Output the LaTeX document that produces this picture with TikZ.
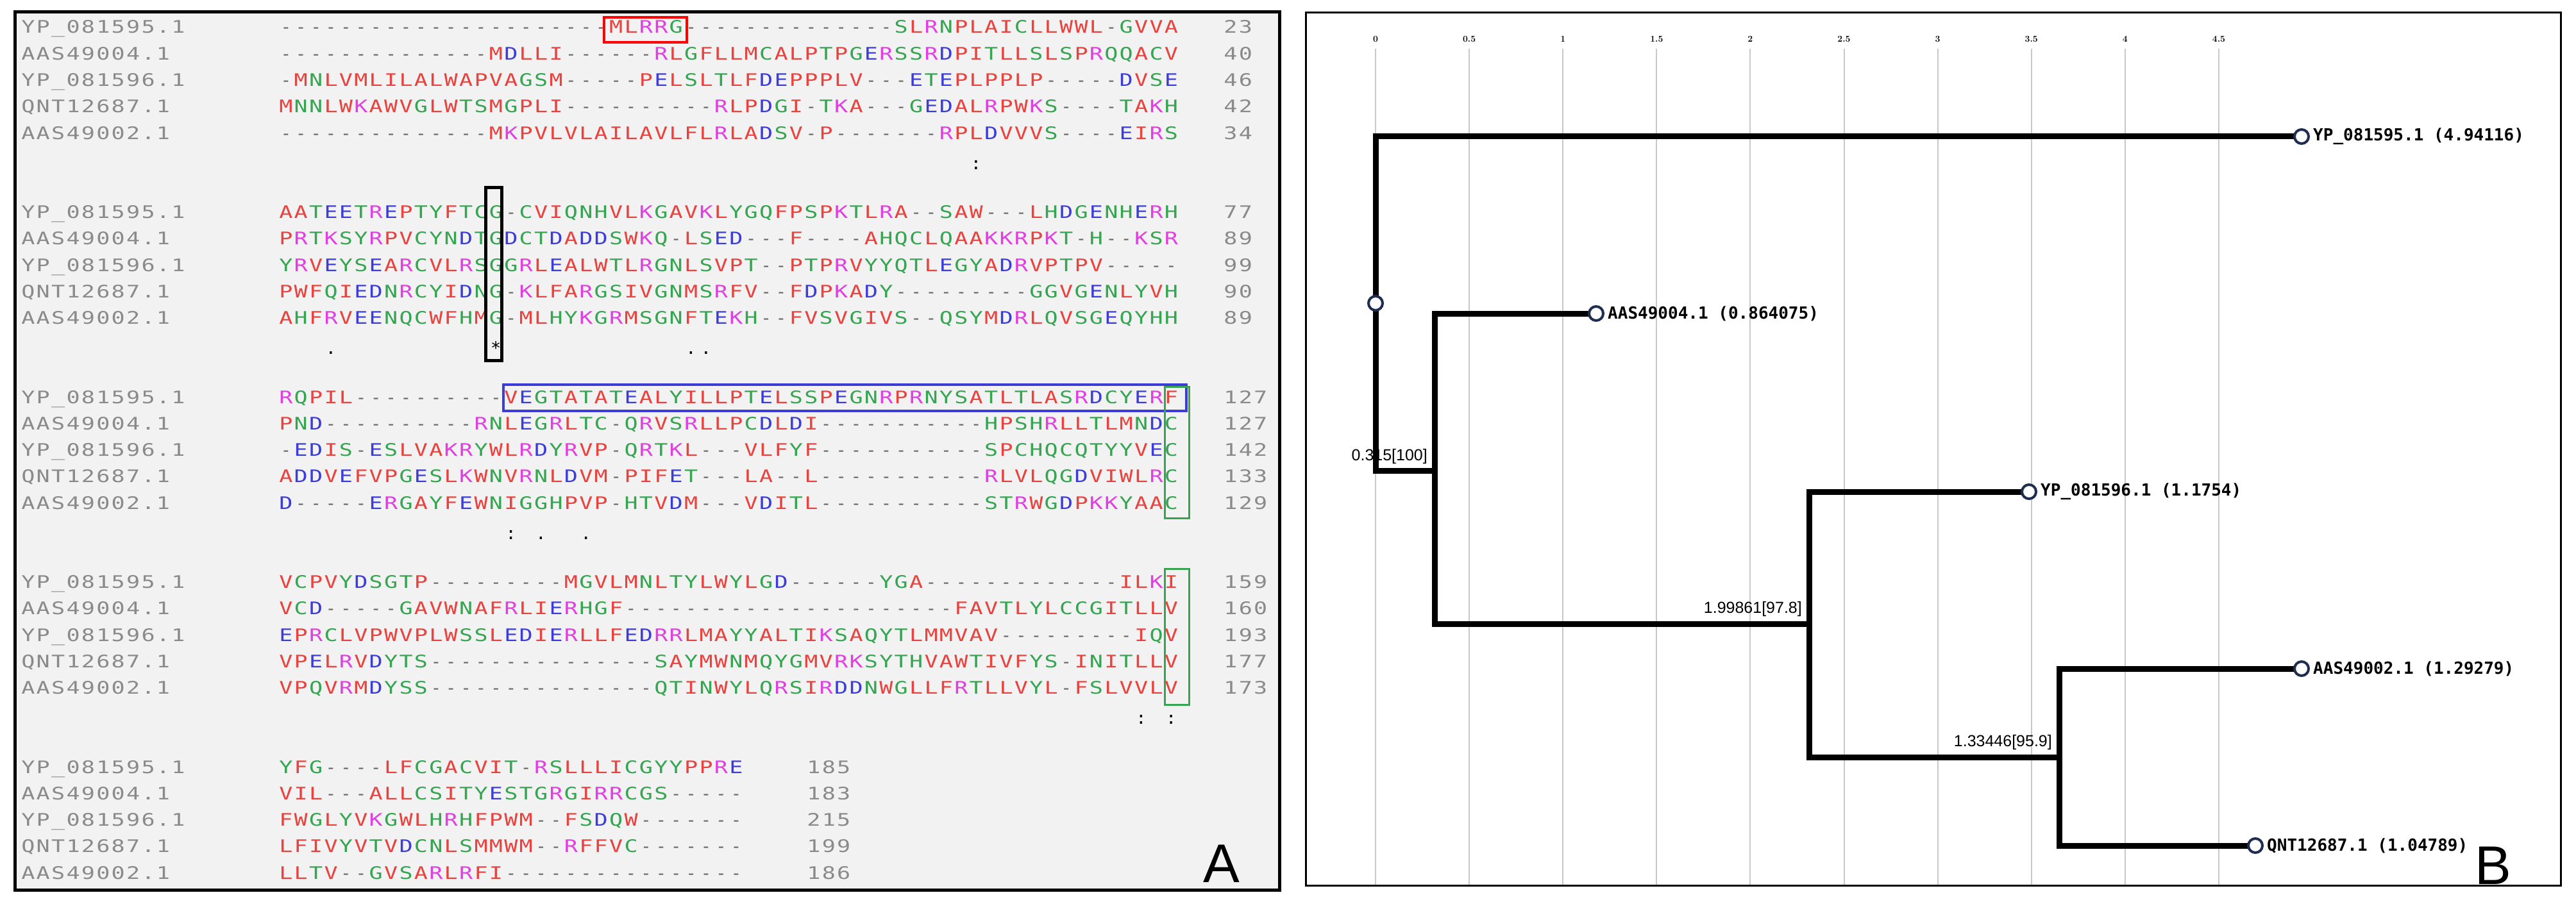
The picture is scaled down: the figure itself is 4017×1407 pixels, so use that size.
\documentclass[tikz,border=0pt]{standalone}
\usepackage{fontspec}
\usepackage{graphicx}
\setmainfont{Latin Modern Roman}
\setmonofont{DejaVu Sans Mono}
\setsansfont{Liberation Sans}
\definecolor{sred}{HTML}{E8433F}
\definecolor{sblue}{HTML}{3C3CD8}
\definecolor{smag}{HTML}{E040E0}
\definecolor{sgreen}{HTML}{36A552}
\definecolor{gapc}{HTML}{6A6A6A}
\definecolor{namec}{HTML}{8A8A8A}
\definecolor{panelbg}{HTML}{F2F2F2}
\definecolor{gridc}{HTML}{C8C8C8}
\definecolor{navy}{HTML}{1F2D50}
\colorlet{aaA}{sred}\colorlet{aaV}{sred}\colorlet{aaF}{sred}\colorlet{aaP}{sred}
\colorlet{aaM}{sred}\colorlet{aaI}{sred}\colorlet{aaL}{sred}\colorlet{aaW}{sred}
\colorlet{aaD}{sblue}\colorlet{aaE}{sblue}
\colorlet{aaR}{smag}\colorlet{aaK}{smag}
\colorlet{aaS}{sgreen}\colorlet{aaT}{sgreen}\colorlet{aaY}{sgreen}\colorlet{aaH}{sgreen}
\colorlet{aaC}{sgreen}\colorlet{aaN}{sgreen}\colorlet{aaG}{sgreen}\colorlet{aaQ}{sgreen}
\newlength\cw \setlength\cw{23.4pt}
\def\aacells#1{\aaloop#1\relax}
\def\aaloop#1{\ifx\relax#1\else\aacell{#1}\expandafter\aaloop\fi}
\def\aacell#1{\makebox[\cw]{\ifx-#1\textcolor{gapc}{-}\else\textcolor{aa#1}{\scalebox{1.3}[1]{#1}}\fi}}
\def\nmcells#1{\nmloop#1\relax}
\def\nmloop#1{\ifx\relax#1\else\makebox[\cw]{\scalebox{1.3}[1]{#1}}\expandafter\nmloop\fi}
\begin{document}
\begin{tikzpicture}[x=1pt,y=-1pt,
  seqtext/.style={anchor=base west,inner sep=0pt,font=\fontsize{27}{30}\ttfamily},
  nametext/.style={seqtext,text=namec},
  constext/.style={anchor=base,inner sep=0pt,font=\fontsize{27}{30}\ttfamily},
  br/.style={line width=9pt,line cap=rect,line join=miter},
  tip/.style={circle,draw=navy,fill=white,line width=4pt,minimum size=22pt,inner sep=0pt},
  leaflab/.style={anchor=west,inner sep=0pt,font=\fontsize{26}{28}\ttfamily\bfseries},
  intlab/.style={anchor=south east,inner sep=0pt,font=\fontsize{25}{27}\sffamily},
  ticklab/.style={anchor=base,inner sep=0pt,font=\fontsize{14}{16}\bfseries},
  panelletter/.style={inner sep=0pt,font=\fontsize{85}{90}\sffamily}]
\useasboundingbox (0,0) rectangle (4017,1407);
\fill[white] (0,0) rectangle (4017,1407);
% Panel A
\draw[line width=5pt,fill=panelbg] (23,19) rectangle (1995,1388);
\newcommand\srow[6]{%
  \pgfmathsetmacro\yy{52+288.5*#1+41.3*#2}%
  \node[nametext] (n#1#2) at (32,\yy) {\nmcells{#3}};%
  \node[seqtext] (s#1#2) at (434,\yy) {\aacells{#4}};%
  \node[nametext] (c#1#2) at (#6,\yy) {\nmcells{#5}};}
\newcommand\cons[3]{%
  \pgfmathsetmacro\yy{52+288.5*#1+212}%
  \pgfmathsetmacro\xx{434+23.4*(#2+0.5)}%
  \node[constext] (k#1#2) at (\xx,\yy) {#3};}
\srow{0}{0}{YP\_081595.1}{----------------------MLRRG--------------SLRNPLAICLLWWL-GVVA}{23}{1907}
\srow{0}{1}{AAS49004.1}{--------------MDLLI------RLGFLLMCALPTPGERSSRDPITLLSLSPRQQACV}{40}{1907}
\srow{0}{2}{YP\_081596.1}{-MNLVMLILALWAPVAGSM-----PELSLTLFDEPPPLV---ETEPLPPLP-----DVSE}{46}{1907}
\srow{0}{3}{QNT12687.1}{MNNLWKAWVGLWTSMGPLI----------RLPDGI-TKA---GEDALRPWKS----TAKH}{42}{1907}
\srow{0}{4}{AAS49002.1}{--------------MKPVLVLAILAVLFLRLADSV-P-------RPLDVVVS----EIRS}{34}{1907}
\cons{0}{46}{:}
\srow{1}{0}{YP\_081595.1}{AATEETREPTYFTCG-CVIQNHVLKGAVKLYGQFPSPKTLRA--SAW---LHDGENHERH}{77}{1907}
\srow{1}{1}{AAS49004.1}{PRTKSYRPVCYNDTGDCTDADDSWKQ-LSED---F----AHQCLQAAKKRPKT-H--KSR}{89}{1907}
\srow{1}{2}{YP\_081596.1}{YRVEYSEARCVLRSGGRLEALWTLRGNLSVPT--PTPRVYYQTLEGYADRVPTPV-----}{99}{1907}
\srow{1}{3}{QNT12687.1}{PWFQIEDNRCYIDNG-KLFARGSIVGNMSRFV--FDPKADY---------GGVGENLYVH}{90}{1907}
\srow{1}{4}{AAS49002.1}{AHFRVEENQCWFHMG-MLHYKGRMSGNFTEKH--FVSVGIVS--QSYMDRLQVSGEQYHH}{89}{1907}
\cons{1}{3}{.}\cons{1}{14}{*}\cons{1}{27}{.}\cons{1}{28}{.}
\srow{2}{0}{YP\_081595.1}{RQPIL----------VEGTATATEALYILLPTELSSPEGNRPRNYSATLTLASRDCYERF}{127}{1907}
\srow{2}{1}{AAS49004.1}{PND----------RNLEGRLTC-QRVSRLLPCDLDI-----------HPSHRLLTLMNDC}{127}{1907}
\srow{2}{2}{YP\_081596.1}{-EDIS-ESLVAKRYWLRDYRVP-QRTKL---VLFYF-----------SPCHQCQTYYVEC}{142}{1907}
\srow{2}{3}{QNT12687.1}{ADDVEFVPGESLKWNVRNLDVM-PIFET---LA--L-----------RLVLQGDVIWLRC}{133}{1907}
\srow{2}{4}{AAS49002.1}{D-----ERGAYFEWNIGGHPVP-HTVDM---VDITL-----------STRWGDPKKYAAC}{129}{1907}
\cons{2}{15}{:}\cons{2}{17}{.}\cons{2}{20}{.}
\srow{3}{0}{YP\_081595.1}{VCPVYDSGTP---------MGVLMNLTYLWYLGD------YGA-------------ILKI}{159}{1907}
\srow{3}{1}{AAS49004.1}{VCD-----GAVWNAFRLIERHGF----------------------FAVTLYLCCGITLLV}{160}{1907}
\srow{3}{2}{YP\_081596.1}{EPRCLVPWVPLWSSLEDIERLLFEDRRLMAYYALTIKSAQYTLMMVAV---------IQV}{193}{1907}
\srow{3}{3}{QNT12687.1}{VPELRVDYTS---------------SAYMWNMQYGMVRKSYTHVAWTIVFYS-INITLLV}{177}{1907}
\srow{3}{4}{AAS49002.1}{VPQVRMDYSS---------------QTINWYLQRSIRDDNWGLLFRTLLVYL-FSLVVLV}{173}{1907}
\cons{3}{57}{:}\cons{3}{59}{:}
\srow{4}{0}{YP\_081595.1}{YFG----LFCGACVIT-RSLLLICGYYPPRE}{185}{1257}
\srow{4}{1}{AAS49004.1}{VIL---ALLCSITYESTGRGIRRCGS-----}{183}{1257}
\srow{4}{2}{YP\_081596.1}{FWGLYVKGWLHRHFPWM--FSDQW-------}{215}{1257}
\srow{4}{3}{QNT12687.1}{LFIVYVTVDCNLSMMWM--RFFVC-------}{199}{1257}
\srow{4}{4}{AAS49002.1}{LLTV--GVSARLRFI----------------}{186}{1257}
% highlight boxes
\draw[red,line width=4pt] (942,27) rectangle (1071,66);
\draw[black,line width=5pt] (757,292) rectangle (782,562);
\draw[sblue,line width=4pt] (785,600) rectangle (1850,641);
\draw[sgreen,line width=3pt] (1816,603) rectangle (1854,808);
\draw[sgreen,line width=3pt] (1816,887) rectangle (1854,1099);
\node[panelletter] (lA) at (1905,1347) {A};
% Panel B
\draw[line width=3pt,fill=white] (2036,20) rectangle (3993,1381);
\foreach \t/\lab [count=\i] in {0/0,0.5/0.5,1/1,1.5/1.5,2/2,2.5/2.5,3/3,3.5/3.5,4/4,4.5/4.5}{
  \draw[gridc,line width=2pt] ({2145+292.2*\t},76) -- ({2145+292.2*\t},1380);
  \node[ticklab] (t\i) at ({2145+292.2*\t},66) {\lab};
}
\coordinate (R) at (2145,473);
\coordinate (rt) at (2145,213);
\coordinate (rb) at (2145,734);
\coordinate (a1) at (2237,734);
\coordinate (a1t) at (2237,489);
\coordinate (a1b) at (2237,973);
\coordinate (a2) at (2821,973);
\coordinate (a2t) at (2821,767);
\coordinate (a2b) at (2821,1181);
\coordinate (a3) at (3211,1181);
\coordinate (a3t) at (3211,1043);
\coordinate (a3b) at (3211,1319);
\coordinate (L1) at (3589,213);
\coordinate (L2) at (2489,489);
\coordinate (L3) at (3164,767);
\coordinate (L4) at (3589,1043);
\coordinate (L5) at (3517,1319);
\draw[br] (L1) -- (rt) -- (rb) -- (a1);
\draw[br] (L2) -- (a1t) -- (a1b) -- (a2);
\draw[br] (L3) -- (a2t) -- (a2b) -- (a3);
\draw[br] (L4) -- (a3t) -- (a3b) -- (L5);
\node[tip] (cR) at (R) {};
\node[tip] (c1) at (L1) {};
\node[tip] (c2) at (L2) {};
\node[tip] (c3) at (L3) {};
\node[tip] (c4) at (L4) {};
\node[tip] (c5) at (L5) {};
\node[leaflab] (l1) at ([xshift=5pt]c1.east) {YP\_081595.1 (4.94116)};
\node[leaflab] (l2) at ([xshift=5pt]c2.east) {AAS49004.1 (0.864075)};
\node[leaflab] (l3) at ([xshift=5pt]c3.east) {YP\_081596.1 (1.1754)};
\node[leaflab] (l4) at ([xshift=5pt]c4.east) {AAS49002.1 (1.29279)};
\node[leaflab] (l5) at ([xshift=5pt]c5.east) {QNT12687.1 (1.04789)};
\node[intlab] (i1) at (2226,724) {0.315[100]};
\node[intlab] (i2) at (2810,962) {1.99861[97.8]};
\node[intlab] (i3) at (3200,1170) {1.33446[95.9]};
\node[panelletter] (lB) at (3888,1350) {B};
\end{tikzpicture}
\end{document}
